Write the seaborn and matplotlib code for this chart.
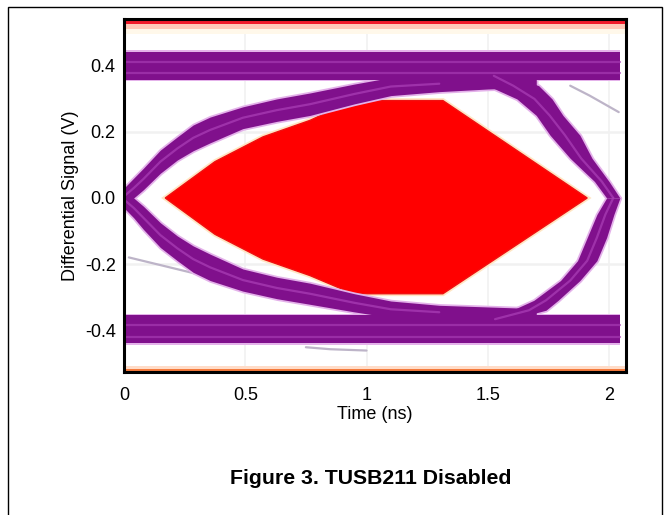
import numpy as np
import pandas as pd
import matplotlib
matplotlib.use('Agg')
import matplotlib.pyplot as plt
from matplotlib.patches import Rectangle
import seaborn as sns

# eye mask region (red), ns / V
mask_x = [0.17, 0.375, 0.573, 0.767, 0.944, 1.315, 1.91, 1.315, 0.944, 0.767, 0.573, 0.375]
mask_y = [0.0, 0.11, 0.185, 0.235, 0.295, 0.295, 0.0, -0.29, -0.29, -0.235, -0.185, -0.11]

# rails (upper / lower band of the eye)
rail_x = [0.0, 2.045]
upper_rail = (0.358, 0.443)
lower_rail = (-0.44, -0.355)

# left crossing, rising band (top edge / bottom edge)
lr_x = [0.0, 0.04, 0.08, 0.15, 0.22, 0.285, 0.355, 0.49, 0.63, 0.767, 0.95, 1.10, 1.30, 1.50, 1.70]
lr_top = [0.03, 0.06, 0.09, 0.145, 0.185, 0.221, 0.245, 0.276, 0.30, 0.318, 0.345, 0.365, 0.37, 0.37, 0.37]
lr_bot = [-0.02, 0.0, 0.025, 0.075, 0.115, 0.143, 0.167, 0.21, 0.232, 0.25, 0.285, 0.31, 0.322, 0.33, 0.335]

# left crossing, falling band
lf_x = [0.0, 0.04, 0.08, 0.15, 0.22, 0.285, 0.355, 0.49, 0.63, 0.767, 0.95, 1.10, 1.30, 1.50, 1.70]
lf_top = [0.02, 0.0, -0.025, -0.075, -0.115, -0.145, -0.17, -0.215, -0.24, -0.258, -0.29, -0.312, -0.325, -0.33, -0.335]
lf_bot = [-0.03, -0.06, -0.095, -0.15, -0.19, -0.225, -0.25, -0.282, -0.305, -0.322, -0.345, -0.362, -0.367, -0.367, -0.367]

# right crossing, falling band (x of inner / outer edge at each level)
rf_y = [0.37, 0.34, 0.30, 0.25, 0.19, 0.12, 0.05, 0.0]
rf_in = [1.45, 1.50, 1.62, 1.70, 1.757, 1.84, 1.94, 1.99]
rf_out = [1.60, 1.71, 1.765, 1.81, 1.88, 1.93, 2.0, 2.045]

# right crossing, rising band
rr_y = [0.0, -0.05, -0.12, -0.19, -0.25, -0.31, -0.34, -0.367]
rr_in = [1.99, 1.95, 1.91, 1.87, 1.80, 1.69, 1.60, 1.46]
rr_out = [2.045, 2.02, 1.99, 1.95, 1.88, 1.79, 1.74, 1.60]

# faint grey stray traces
g1_x = [0.02, 0.30, 0.55, 0.77, 0.95]
g1_y = [-0.18, -0.23, -0.27, -0.31, -0.34]
g2_x = [1.84, 1.92, 1.98, 2.04]
g2_y = [0.34, 0.31, 0.285, 0.26]
g3_x = [0.75, 0.85, 1.0]
g3_y = [-0.452, -0.458, -0.462]

xticks = [0, 0.5, 1, 1.5, 2]
xtick_labels = ['0', '0.5', '1', '1.5', '2']
yticks = [-0.4, -0.2, 0.0, 0.2, 0.4]
ytick_labels = ['-0.4', '-0.2', '0.0', '0.2', '0.4']

sns.set_theme(style='white')
plt.rcParams['font.family'] = ['Liberation Sans', 'DejaVu Sans']
plt.rcParams['text.color'] = 'black'
plt.rcParams['axes.labelcolor'] = 'black'
plt.rcParams['xtick.color'] = 'black'
plt.rcParams['ytick.color'] = 'black'

fig = plt.figure(figsize=(6.7, 5.15), dpi=100)
ax = fig.add_axes([124 / 670, 1 - 372 / 515, 502 / 670, 353 / 515])

purple = '#80108c'
stripe = '#a63ab2'
edge_light = '#e4b2ea'

# faint grid
for xv in xticks[1:]:
    ax.axvline(xv, color='#f1f1f1', lw=1.2, zorder=0)
for yv in [-0.2, 0.2]:
    ax.axhline(yv, color='#f1f1f1', lw=1.8, zorder=0)

# top / bottom rails of the display
ax.axhspan(0.512, 0.526, color='#ffc9b8', zorder=1, lw=0)
ax.axhspan(0.526, 0.545, color='#f01a2a', zorder=1, lw=0)
ax.axhspan(0.497, 0.512, color='#fff8ea', zorder=1, lw=0)
ax.axhspan(-0.53, -0.519, color='#f47a3c', zorder=1, lw=0)
ax.axhspan(-0.519, -0.508, color='#ffdcc8', zorder=1, lw=0)

# eye mask
ax.fill(mask_x, mask_y, facecolor='none', edgecolor='#ffe6c4', lw=3.5, zorder=2)
ax.fill(mask_x, mask_y, facecolor='#ff0000', edgecolor='#f01010', lw=1.0, zorder=3)

# rails
for lo, hi in [upper_rail, lower_rail]:
    ax.fill_between(rail_x, [lo - 0.005] * 2, [hi + 0.005] * 2, color=edge_light, lw=0, zorder=4)
    ax.fill_between(rail_x, [lo] * 2, [hi] * 2, color=purple, lw=0, zorder=4.5)
    mid = (lo + hi) / 2
    for off in (-0.022, 0.012):
        df = pd.DataFrame({'t': rail_x, 'v': [mid + off] * 2})
        sns.lineplot(data=df, x='t', y='v', ax=ax, color=stripe, lw=1.6, alpha=0.7,
                     estimator=None, zorder=5)

# edge bands (left crossing)
for bx, top, bot in [(lr_x, lr_top, lr_bot), (lf_x, lf_top, lf_bot)]:
    ax.fill_between(bx, bot, top, color=edge_light, lw=2.5, edgecolor=edge_light, zorder=4)
    ax.fill_between(bx, bot, top, color=purple, lw=0, zorder=4.5)
    df = pd.DataFrame({'t': bx[:-2], 'v': ((np.array(top) + np.array(bot)) / 2)[:-2]})
    sns.lineplot(data=df, x='t', y='v', ax=ax, color=stripe, lw=1.6, alpha=0.8,
                 sort=False, estimator=None, zorder=5)

# edge bands (right crossing)
for by, xin, xout in [(rf_y, rf_in, rf_out), (rr_y, rr_in, rr_out)]:
    ax.fill_betweenx(by, xin, xout, color=edge_light, lw=2.5, edgecolor=edge_light, zorder=4)
    ax.fill_betweenx(by, xin, xout, color=purple, lw=0, zorder=4.5)
    df = pd.DataFrame({'t': (np.array(xin) + np.array(xout)) / 2, 'v': by})
    sns.lineplot(data=df, x='t', y='v', ax=ax, color=stripe, lw=1.6, alpha=0.8,
                 sort=False, estimator=None, zorder=5)

for gx, gy in [(g1_x, g1_y), (g2_x, g2_y), (g3_x, g3_y)]:
    df = pd.DataFrame({'t': gx, 'v': gy})
    sns.lineplot(data=df, x='t', y='v', ax=ax, color='#bdb4c8', lw=1.6, sort=False,
                 estimator=None, zorder=3)

ax.set_xlim(0, 2.07)
ax.set_ylim(-0.527, 0.542)
ax.set_xticks(xticks)
ax.set_xticklabels(xtick_labels, fontsize=13)
ax.set_yticks(yticks)
ax.set_yticklabels(ytick_labels, fontsize=13)
ax.tick_params(axis='both', length=0, pad=6)
ax.tick_params(axis='x', pad=11)
ax.set_xlabel('Time (ns)', fontsize=13, labelpad=1)
ax.set_ylabel('Differential Signal (V)', fontsize=13, labelpad=4)
for sp in ax.spines.values():
    sp.set_visible(True)
    sp.set_color('black')
    sp.set_linewidth(2.2)
    sp.set_zorder(10)

fig.text(371 / 670, 1 - 478 / 515, 'Figure 3. TUSB211 Disabled', ha='center', va='center',
         fontsize=15.3, fontweight='bold')

# page border
fig.patches.append(Rectangle((8 / 670, -0.05), 654 / 670, 1.05 - 7 / 515,
                             transform=fig.transFigure, fill=False, edgecolor='black', lw=1))

fig.savefig('out.png', dpi=100)
